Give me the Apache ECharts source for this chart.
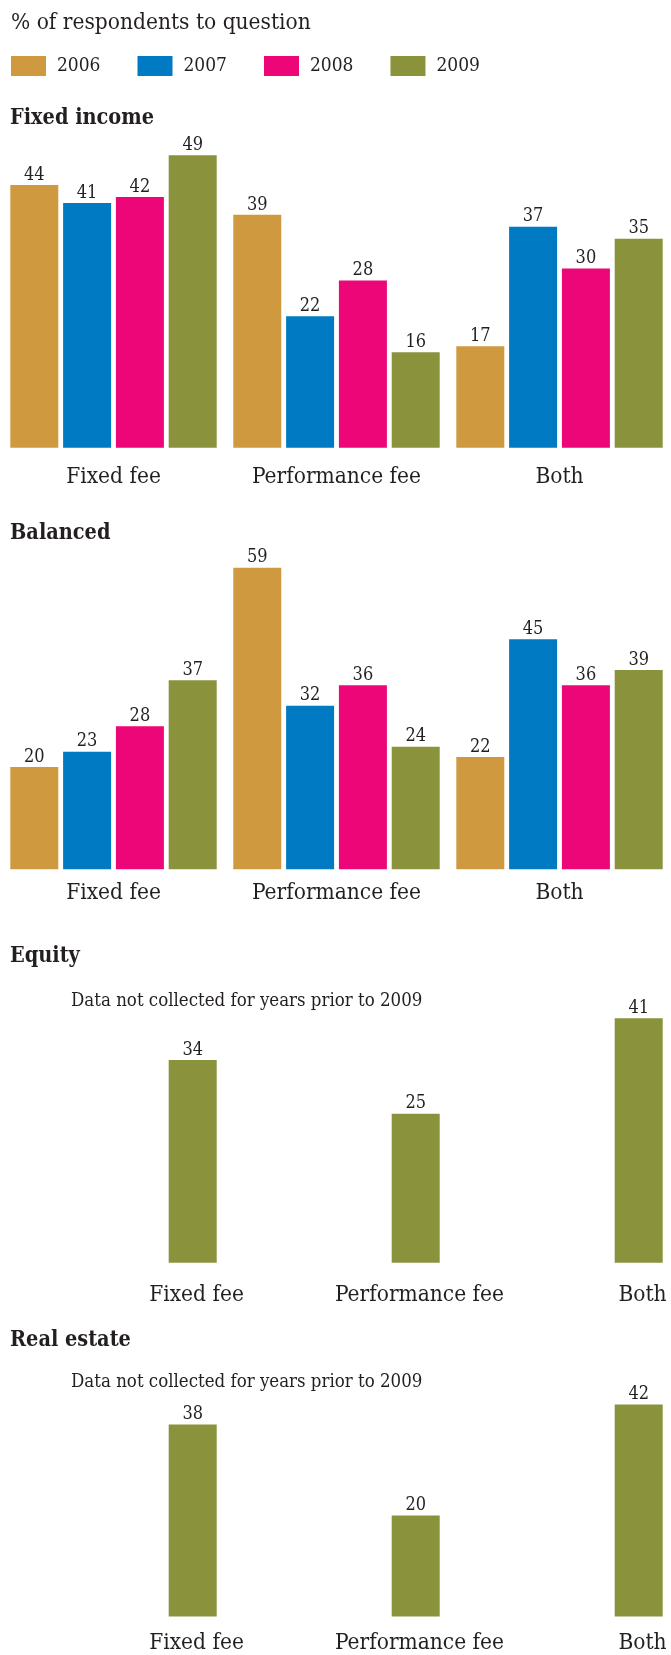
<!DOCTYPE html>
<html>
<head>
<meta charset="utf-8">
<title>Fee structures by asset class</title>
<script src="https://cdn.jsdelivr.net/npm/echarts@6/dist/echarts.min.js"></script>
<style>
  html, body { margin: 0; padding: 0; background: #ffffff; }
  #chart { width: 671px; height: 1655px; }
</style>
</head>
<body>
<div id="chart"></div>
<script>
// Fee categories shown on every panel
const categories = ['Fixed fee', 'Performance fee', 'Both'];
const years = ['2006', '2007', '2008', '2009'];

// Fixed income, % of respondents
const fixedIncome2006 = [44, 39, 17];
const fixedIncome2007 = [41, 22, 37];
const fixedIncome2008 = [42, 28, 30];
const fixedIncome2009 = [49, 16, 35];

// Balanced, % of respondents
const balanced2006 = [20, 59, 22];
const balanced2007 = [23, 32, 45];
const balanced2008 = [28, 36, 36];
const balanced2009 = [37, 24, 39];

// Equity and real estate: only 2009 collected
const equity2009 = [34, 25, 41];
const realEstate2009 = [38, 20, 42];
const notCollected = ['-', '-', '-'];

const yearColors = ['#CF9A3F', '#007AC2', '#EC0677', '#8A923B'];
const ink = '#231F20';
const serif = "'DejaVu Serif Condensed', 'DejaVu Serif', serif";

// One panel per asset class: grid placement, axis range and label placement
const panels = [
  { name: 'Fixed income', values: [fixedIncome2006, fixedIncome2007, fixedIncome2008, fixedIncome2009],
    titleTop: 107.6, top: 149.2, height: 298.5, max: 50, labelMargin: 18, labelShift: 0 },
  { name: 'Balanced', values: [balanced2006, balanced2007, balanced2008, balanced2009],
    titleTop: 522.3, top: 562.7, height: 306.6, max: 60, labelMargin: 12.5, labelShift: 0 },
  { name: 'Equity', values: [notCollected, notCollected, notCollected, equity2009],
    titleTop: 945, top: 964.7, height: 298, max: 50, labelMargin: 20.5, labelShift: 83,
    note: 'Data not collected for years prior to 2009', noteTop: 992 },
  { name: 'Real estate', values: [notCollected, notCollected, notCollected, realEstate2009],
    titleTop: 1329.3, top: 1313.5, height: 307.2, max: 60, labelMargin: 15.5, labelShift: 83,
    note: 'Data not collected for years prior to 2009', noteTop: 1373 }
];

const titles = [{
  text: '% of respondents to question', left: 11, top: 12, padding: 0,
  textStyle: { fontFamily: serif, fontSize: 22.5, fontWeight: 'normal', color: ink }
}];
const grids = [], xAxes = [], yAxes = [], series = [];

panels.forEach((p, i) => {
  titles.push({
    text: p.name, left: 10, top: p.titleTop, padding: 0,
    textStyle: { fontFamily: serif, fontSize: 21.5, fontWeight: 'bold', color: ink }
  });
  if (p.note) {
    titles.push({
      text: p.note, left: 71, top: p.noteTop, padding: 0,
      textStyle: { fontFamily: serif, fontSize: 18.5, fontWeight: 'normal', color: ink }
    });
  }
  grids.push({ left: 2, width: 670, top: p.top, height: p.height });
  xAxes.push({
    type: 'category', gridIndex: i, data: categories,
    axisLine: { show: false }, axisTick: { show: false }, splitLine: { show: false },
    axisLabel: {
      interval: 0, margin: p.labelMargin, fontFamily: serif, fontSize: 22.5, color: ink,
      padding: [0, 0, 0, p.labelShift * 2]
    }
  });
  yAxes.push({ type: 'value', gridIndex: i, min: 0, max: p.max, show: false });
  p.values.forEach((vals, k) => {
    series.push({
      type: 'bar', name: years[k], xAxisIndex: i, yAxisIndex: i,
      data: vals, barWidth: 48, barGap: '10%',
      itemStyle: { color: yearColors[k] },
      label: {
        show: true, position: 'top', distance: 1,
        fontFamily: serif, fontSize: 18, color: ink
      },
      animation: false
    });
  });
});

const chart = echarts.init(document.getElementById('chart'), null, { renderer: 'canvas' });
chart.setOption({
  backgroundColor: '#ffffff',
  animation: false,
  color: yearColors,
  title: titles,
  legend: {
    data: years, left: 11, top: 56, padding: 0,
    icon: 'rect', itemWidth: 35, itemHeight: 20, itemGap: 37,
    selectedMode: false,
    textStyle: { fontFamily: serif, fontSize: 19, color: ink, padding: [0, 0, 0, 6] }
  },
  grid: grids,
  xAxis: xAxes,
  yAxis: yAxes,
  series: series
});
</script>
</body>
</html>
